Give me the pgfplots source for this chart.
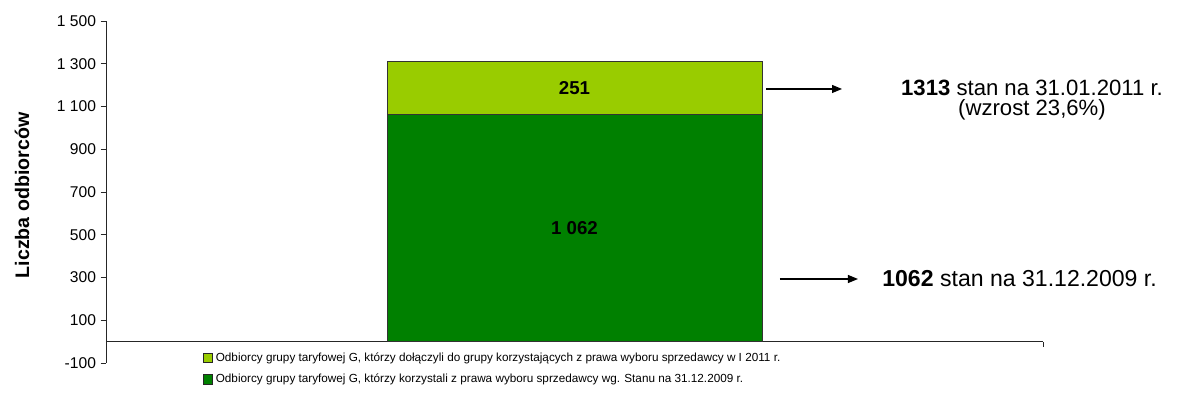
\documentclass[border=0pt]{standalone}
\usepackage{pgfplots}
\pgfplotsset{compat=1.18}
\usepackage{fontspec}
\setmainfont{Liberation Sans}
\usetikzlibrary{arrows.meta}
\definecolor{lgreen}{HTML}{99CC00}
\definecolor{dgreen}{HTML}{008000}
\begin{document}
\begin{tikzpicture}
\begin{axis}[
  name=ax,
  scale only axis,
  width=702.75pt, height=256.5pt,
  xmin=-1, xmax=1, ymin=-100, ymax=1500,
  ybar stacked, bar width=0.8,
  axis y line=left, axis x line=middle,
  axis line style={-, draw=black!85, line width=0.6pt},
  xtick=\empty,
  extra x ticks={1}, extra x tick labels={},
  extra x tick style={tick align=outside, major tick length=4pt},
  ytick={-100,100,300,500,700,900,1100,1300,1500},
  tick align=outside, major tick length=4pt,
  tick style={black!85, line width=0.6pt},
  yticklabel style={font=\fontsize{11.7}{13}\selectfont, /pgf/number format/1000 sep={\ }},
  /pgf/number format/assume math mode=true,
  ylabel={\bfseries Liczba odbiorców},
  ylabel style={font=\fontsize{14.7}{16}\selectfont, at={(axis description cs:-0.0896,0.49)}, anchor=center},
  clip=false,
  reverse legend,
  legend style={draw=none, fill=none, at={(axis description cs:0.099,0.046)}, anchor=north west,
    font=\fontsize{8.8}{10}\selectfont, row sep=4pt, cells={anchor=west}},
  legend image code/.code={\draw[#1, draw=black!85] (0pt,-3.5pt) rectangle (7pt,3.5pt);},
]
\addplot[fill=dgreen, draw=black!80, line width=0.6pt] coordinates {(0,1062)};
\addlegendentry{Odbiorcy grupy taryfowej G, którzy korzystali z prawa wyboru sprzedawcy wg. Stanu na 31.12.2009 r.}
\addplot[fill=lgreen, draw=black!80, line width=0.6pt] coordinates {(0,251)};
\addlegendentry{Odbiorcy grupy taryfowej G, którzy dołączyli do grupy korzystających z prawa wyboru sprzedawcy w I 2011 r.}
\coordinate (lab1) at (axis cs:0,1187.5);
\coordinate (lab2) at (axis cs:0,531);
\draw[line width=0.8pt, -{Triangle[length=7.5pt,width=6pt]}] (axis cs:0.4088,1182) -- (axis cs:0.571,1182);
\draw[line width=0.8pt, -{Triangle[length=7.5pt,width=6pt]}] (axis cs:0.4386,293) -- (axis cs:0.605,293);
\node[font=\fontsize{16.6}{15}\selectfont, align=center, anchor=center] at (axis cs:0.9765,1131) {\textbf{1313} stan na 31.01.2011 r.\\(wzrost 23,6\%)};
\node[font=\fontsize{17.3}{20}\selectfont, anchor=west] at (axis cs:0.647,293) {\textbf{1062} stan na 31.12.2009 r.};
\end{axis}
\node[font=\fontsize{14}{16}\selectfont\bfseries] at (lab1) {251};
\node[font=\fontsize{14}{16}\selectfont\bfseries] at (lab2) {1 062};
\path[use as bounding box] ([xshift=-79.5pt,yshift=-28.5pt]ax.south west) rectangle ([xshift=105pt,yshift=15.75pt]ax.north east);
\end{tikzpicture}
\end{document}
